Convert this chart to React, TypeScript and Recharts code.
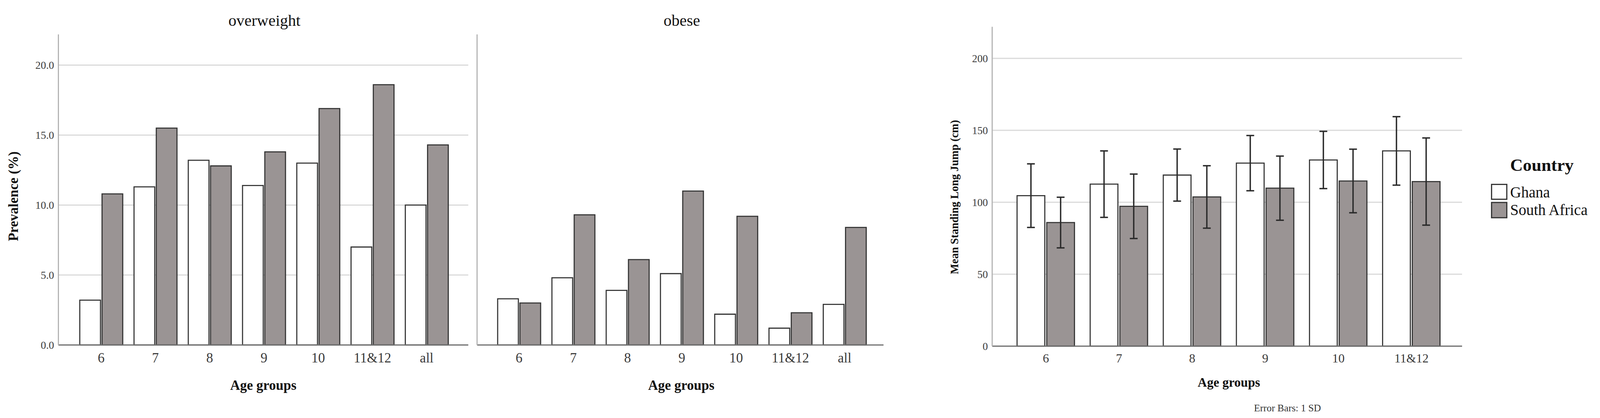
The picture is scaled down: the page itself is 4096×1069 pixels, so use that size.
import React from "react";
import { Bar, BarChart, CartesianGrid, ErrorBar, XAxis, YAxis } from "recharts";

// Prevalence panels (left) and standing long jump (right), Ghana vs South Africa.
const AGE_GROUPS = ["6", "7", "8", "9", "10", "11&12", "all"];
const OVERWEIGHT_GHANA = [3.2, 11.3, 13.2, 11.4, 13.0, 7.0, 10.0];
const OVERWEIGHT_SA = [10.8, 15.5, 12.8, 13.8, 16.9, 18.6, 14.3];
const OBESE_GHANA = [3.3, 4.8, 3.9, 5.1, 2.2, 1.2, 2.9];
const OBESE_SA = [3.0, 9.3, 6.1, 11.0, 9.2, 2.3, 8.4];
const PREV_TICKS = [0, 5, 10, 15, 20];

const JUMP_AGE_GROUPS = ["6", "7", "8", "9", "10", "11&12"];
const JUMP_GHANA = [104.6, 112.6, 118.9, 127.2, 129.4, 135.7];
const JUMP_GHANA_SD = [22.1, 23.1, 18.1, 19.2, 19.9, 23.8];
const JUMP_SA = [85.9, 97.2, 103.7, 109.8, 114.8, 114.4];
const JUMP_SA_SD = [17.6, 22.4, 21.7, 22.3, 22.1, 30.3];
const JUMP_TICKS = [0, 50, 100, 150, 200];

const overweightData = AGE_GROUPS.map((age, i) => ({
  age,
  ghana: OVERWEIGHT_GHANA[i],
  sa: OVERWEIGHT_SA[i],
}));
const obeseData = AGE_GROUPS.map((age, i) => ({
  age,
  ghana: OBESE_GHANA[i],
  sa: OBESE_SA[i],
}));
const jumpData = JUMP_AGE_GROUPS.map((age, i) => ({
  age,
  ghana: JUMP_GHANA[i],
  ghanaSd: JUMP_GHANA_SD[i],
  sa: JUMP_SA[i],
  saSd: JUMP_SA_SD[i],
}));

const FONT = "'Liberation Serif', 'Times New Roman', serif";
const GRID = "#dadada";
const AXIS_Y = "#b4b4b4";
const AXIS_X = "#6f6f6f";
const OUTLINE = "#333333";
const GHANA = "#ffffff";
const SA = "#9a9494";
const TICK = "#3a3a3a";
const H = 1069;

const xTick = (offset: number, size: number) => (p: any) => (
  <text
    x={p.x}
    y={p.y + offset}
    dy="0.35em"
    textAnchor="middle"
    fontSize={size}
    fontFamily={FONT}
    fill={TICK}
  >
    {p.payload.value}
  </text>
);

const yTick = (size: number, digits: number) => (p: any) => (
  <text
    x={p.x - 11}
    y={p.y}
    dy="0.35em"
    textAnchor="end"
    fontSize={size}
    fontFamily={FONT}
    fill={TICK}
  >
    {Number(p.payload.value).toFixed(digits)}
  </text>
);

function PrevalencePanel({
  data,
  left,
  width,
  yWidth,
  right,
  showTicks,
  padding,
}: {
  data: any[];
  left: number;
  width: number;
  yWidth: number;
  right: number;
  showTicks: boolean;
  padding: { left: number; right: number };
}) {
  return (
    <div style={{ position: "absolute", left, top: 0, width, height: H }}>
      <BarChart
        width={width}
        height={H}
        data={data}
        margin={{ top: 87.9, right, bottom: 146.8, left: 0 }}
        barCategoryGap={14.7}
        barGap={4}
      >
        <CartesianGrid vertical={false} syncWithTicks stroke={GRID} strokeWidth={3} />
        <XAxis
          dataKey="age"
          height={40}
          interval={0}
          padding={padding}
          tickSize={0}
          tickMargin={0}
          tickLine={false}
          axisLine={{ stroke: AXIS_X, strokeWidth: 3 }}
          tick={xTick(33, 35)}
        />
        <YAxis
          width={yWidth}
          domain={[0, 22.2]}
          ticks={PREV_TICKS}
          tickSize={0}
          tickMargin={0}
          tickLine={false}
          axisLine={{ stroke: AXIS_Y, strokeWidth: 3 }}
          tick={showTicks ? yTick(27.4, 1) : false}
        />
        <Bar
          dataKey="ghana"
          name="Ghana"
          fill={GHANA}
          stroke={OUTLINE}
          strokeWidth={2.8}
          isAnimationActive={false}
        />
        <Bar
          dataKey="sa"
          name="South Africa"
          fill={SA}
          stroke={OUTLINE}
          strokeWidth={2.8}
          isAnimationActive={false}
        />
      </BarChart>
    </div>
  );
}

function JumpChart() {
  return (
    <div style={{ position: "absolute", left: 2380, top: 0, width: 1370, height: H }}>
      <BarChart
        width={1370}
        height={H}
        data={jumpData}
        margin={{ top: 68.4, right: 7.1, bottom: 143.8, left: 0 }}
        barCategoryGap={19.7}
        barGap={5}
      >
        <CartesianGrid vertical={false} syncWithTicks stroke={GRID} strokeWidth={3} />
        <XAxis
          dataKey="age"
          height={40}
          interval={0}
          padding={{ left: 44, right: 36 }}
          tickSize={0}
          tickMargin={0}
          tickLine={false}
          axisLine={{ stroke: AXIS_X, strokeWidth: 3 }}
          tick={xTick(31, 32)}
        />
        <YAxis
          width={160}
          domain={[0, 222]}
          ticks={JUMP_TICKS}
          tickSize={0}
          tickMargin={0}
          tickLine={false}
          axisLine={{ stroke: AXIS_Y, strokeWidth: 3 }}
          tick={yTick(27, 0)}
        />
        <Bar
          dataKey="ghana"
          name="Ghana"
          fill={GHANA}
          stroke={OUTLINE}
          strokeWidth={2.8}
          isAnimationActive={false}
        >
          <ErrorBar dataKey="ghanaSd" width={10} stroke="#2a2a2a" strokeWidth={3.5} direction="y" />
        </Bar>
        <Bar
          dataKey="sa"
          name="South Africa"
          fill={SA}
          stroke={OUTLINE}
          strokeWidth={2.8}
          isAnimationActive={false}
        >
          <ErrorBar dataKey="saSd" width={10} stroke="#2a2a2a" strokeWidth={3.5} direction="y" />
        </Bar>
      </BarChart>
    </div>
  );
}

export default function App() {
  return (
    <div
      style={{
        position: "absolute",
        left: 0,
        top: 0,
        width: 4096,
        height: H,
        background: "#ffffff",
        overflow: "hidden",
      }}
    >
      <PrevalencePanel
        data={overweightData}
        left={0}
        width={1205}
        yWidth={149.5}
        right={6.2}
        showTicks
        padding={{ left: 40, right: 37 }}
      />
      <PrevalencePanel
        data={obeseData}
        left={1210}
        width={1060}
        yWidth={11.3}
        right={8.2}
        showTicks={false}
        padding={{ left: 38, right: 30 }}
      />
      <JumpChart />
      <svg
        width={4096}
        height={H}
        style={{ position: "absolute", left: 0, top: 0, pointerEvents: "none" }}
        fontFamily={FONT}
      >
        <text x={677} y={65.5} textAnchor="middle" fontSize={41} fill="#111">
          overweight
        </text>
        <text x={1745.5} y={65.5} textAnchor="middle" fontSize={41} fill="#111">
          obese
        </text>
        <text x={674} y={997} textAnchor="middle" fontSize={35} fontWeight="bold" fill="#111">
          Age groups
        </text>
        <text x={1744} y={997} textAnchor="middle" fontSize={35} fontWeight="bold" fill="#111">
          Age groups
        </text>
        <text x={3146} y={989} textAnchor="middle" fontSize={33} fontWeight="bold" fill="#111">
          Age groups
        </text>
        <text
          transform="translate(34 502) rotate(-90)"
          textAnchor="middle"
          dy="0.35em"
          fontSize={35}
          fontWeight="bold"
          fill="#111"
        >
          Prevalence (%)
        </text>
        <text
          transform="translate(2443 504) rotate(-90)"
          textAnchor="middle"
          dy="0.35em"
          fontSize={28.4}
          fontWeight="bold"
          fill="#111"
        >
          Mean Standing Long Jump (cm)
        </text>
        <text x={3296} y={1052} textAnchor="middle" fontSize={25.4} fill="#333">
          Error Bars: 1 SD
        </text>
        <text x={3866} y={436.7} fontSize={45} fontWeight="bold" fill="#111">
          Country
        </text>
        <rect x={3818.4} y={471.6} width={39} height={38} fill={GHANA} stroke={OUTLINE} strokeWidth={3} />
        <text x={3866} y={505} fontSize={39} fill="#111">
          Ghana
        </text>
        <rect x={3818.4} y={517.8} width={39} height={39} fill={SA} stroke={OUTLINE} strokeWidth={3} />
        <text x={3866} y={550.4} fontSize={39} fill="#111">
          South Africa
        </text>
      </svg>
    </div>
  );
}
